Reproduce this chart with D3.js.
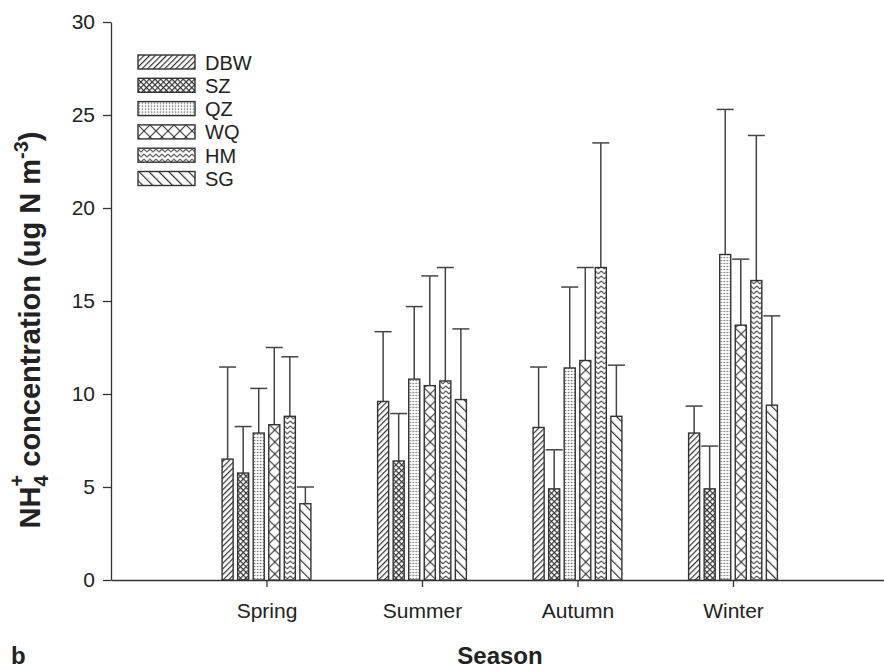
<!DOCTYPE html>
<html>
<head>
<meta charset="utf-8">
<script src="https://cdn.jsdelivr.net/npm/d3@7"></script>
<style>
  body { margin: 0; background: #fff; }
  text { font-family: "Liberation Sans", Arial, sans-serif; fill: #222; }
</style>
</head>
<body>
<svg id="chart" width="884" height="670"></svg>
<script>
// seasons and sites
var seasons = ["Spring", "Summer", "Autumn", "Winter"];
var sites = ["DBW", "SZ", "QZ", "WQ", "HM", "SG"];

// mean NH4+ per site, one value per season
var dbw = [6.5, 9.6, 8.2, 7.9];
var sz  = [5.75, 6.4, 4.9, 4.9];
var qz  = [7.9, 10.8, 11.4, 17.5];
var wq  = [8.35, 10.45, 11.8, 13.7];
var hm  = [8.8, 10.7, 16.8, 16.1];
var sg  = [4.1, 9.7, 8.8, 9.4];

// standard deviation (upper error bar)
var dbwSd = [4.95, 3.75, 3.25, 1.45];
var szSd  = [2.5, 2.55, 2.1, 2.3];
var qzSd  = [2.4, 3.9, 4.35, 7.8];
var wqSd  = [4.15, 5.9, 5.0, 3.55];
var hmSd  = [3.2, 6.1, 6.7, 7.8];
var sgSd  = [0.9, 3.8, 2.75, 4.8];

var yTicks = [0, 5, 10, 15, 20, 25, 30];

var means = [dbw, sz, qz, wq, hm, sg];
var sds = [dbwSd, szSd, qzSd, wqSd, hmSd, sgSd];

var svg = d3.select("#chart");
var defs = svg.append("defs");

var x = d3.scaleLinear().domain([0, 5]).range([111, 888.5]);
var y = d3.scaleLinear().domain([0, 30]).range([580, 22]);

var pitch = 0.1;      // bar spacing in season units
var barW = 0.071;     // bar width in season units

// pattern builders, one per site
function makePattern(id, site, ox, oy) {
  var p = defs.append("pattern").attr("id", id).attr("patternUnits", "userSpaceOnUse");
  if (site == 0) {
    p.attr("width", 4).attr("height", 4).attr("patternTransform", "translate(" + ox + "," + oy + ") rotate(45)");
    p.append("rect").attr("width", 4).attr("height", 4).attr("fill", "#fff");
    p.append("line").attr("x1", 0.6).attr("y1", 0).attr("x2", 0.6).attr("y2", 4).attr("stroke", "#333").attr("stroke-width", 1.2);
  } else if (site == 1) {
    p.attr("width", 4).attr("height", 4).attr("patternTransform", "translate(" + ox + "," + oy + ") rotate(45)");
    p.append("rect").attr("width", 4).attr("height", 4).attr("fill", "#fff");
    p.append("line").attr("x1", 0.6).attr("y1", 0).attr("x2", 0.6).attr("y2", 4).attr("stroke", "#333").attr("stroke-width", 1.2);
    p.append("line").attr("x1", 0).attr("y1", 0.6).attr("x2", 4).attr("y2", 0.6).attr("stroke", "#333").attr("stroke-width", 1.2);
  } else if (site == 2) {
    p.attr("width", 3).attr("height", 3).attr("patternTransform", "translate(" + ox + "," + oy + ")");
    p.append("rect").attr("width", 3).attr("height", 3).attr("fill", "#fff");
    p.append("circle").attr("cx", 1.5).attr("cy", 1.5).attr("r", 0.8).attr("fill", "#666");
  } else if (site == 3) {
    p.attr("width", 12).attr("height", 12).attr("patternTransform", "translate(" + ox + "," + oy + ")");
    p.append("rect").attr("width", 12).attr("height", 12).attr("fill", "#fff");
    p.append("path").attr("d", "M0,0L12,12M12,0L0,12").attr("stroke", "#333").attr("stroke-width", 1.1);
  } else if (site == 4) {
    p.attr("width", 6).attr("height", 5).attr("patternTransform", "translate(" + ox + "," + oy + ")");
    p.append("rect").attr("width", 6).attr("height", 5).attr("fill", "#fff");
    p.append("path").attr("d", "M0,1L3,3.8L6,1").attr("fill", "none").attr("stroke", "#444").attr("stroke-width", 1.1);
  } else {
    p.attr("width", 7).attr("height", 7).attr("patternTransform", "translate(" + ox + "," + oy + ") rotate(-45)");
    p.append("rect").attr("width", 7).attr("height", 7).attr("fill", "#fff");
    p.append("line").attr("x1", 0.6).attr("y1", 0).attr("x2", 0.6).attr("y2", 7).attr("stroke", "#333").attr("stroke-width", 1.2);
  }
}

// axes
var yAxis = d3.axisLeft(y).tickValues(yTicks).tickSize(8).tickSizeOuter(0).tickPadding(8);
var gy = svg.append("g").attr("transform", "translate(111,0)").call(yAxis);
gy.selectAll("text").attr("font-size", 21).style("font-family", "Liberation Sans, Arial, sans-serif").attr("fill", "#222");

var xAxis = d3.axisBottom(x).tickValues([1, 2, 3, 4]).tickFormat(function(d) { return seasons[d - 1]; })
  .tickSize(7).tickSizeOuter(0).tickPadding(16);
var gx = svg.append("g").attr("transform", "translate(0,580)").call(xAxis);
gx.selectAll("text").attr("font-size", 21).style("font-family", "Liberation Sans, Arial, sans-serif").attr("fill", "#222");
svg.selectAll(".domain, .tick line").attr("stroke", "#333").attr("stroke-width", 1.3);

// bars
var bars = [];
sites.forEach(function(s, si) {
  seasons.forEach(function(season, gi) {
    bars.push({ si: si, gi: gi, v: means[si][gi], sd: sds[si][gi] });
  });
});

var g = svg.append("g");
bars.forEach(function(b) {
  var cx = x(b.gi + 1 + (b.si - 2.5) * pitch);
  var w = x(barW) - x(0);
  var id = "pat-" + b.si + "-" + b.gi;
  makePattern(id, b.si, cx - w / 2, y(0));
  // error bar
  g.append("line").attr("x1", cx).attr("x2", cx).attr("y1", y(b.v)).attr("y2", y(b.v + b.sd))
    .attr("stroke", "#444").attr("stroke-width", 1.5);
  g.append("line").attr("x1", cx - 8.5).attr("x2", cx + 8.5).attr("y1", y(b.v + b.sd)).attr("y2", y(b.v + b.sd))
    .attr("stroke", "#444").attr("stroke-width", 1.5);
  g.append("rect").attr("x", cx - w / 2).attr("y", y(b.v)).attr("width", w).attr("height", y(0) - y(b.v))
    .attr("fill", "url(#" + id + ")").attr("stroke", "#333").attr("stroke-width", 1.4);
});

// legend
var leg = svg.append("g");
sites.forEach(function(s, i) {
  var cy = 62 + i * 23.3;
  makePattern("leg-" + i, i, 138, cy - 7);
  leg.append("rect").attr("x", 138).attr("y", cy - 7).attr("width", 57).attr("height", 14)
    .attr("fill", "url(#leg-" + i + ")").attr("stroke", "#333").attr("stroke-width", 1.4);
  leg.append("text").attr("x", 205).attr("y", cy + 7.5).attr("font-size", 20).text(s);
});

// axis titles
var yl = svg.append("text").attr("transform", "translate(40,330) rotate(-90)")
  .attr("text-anchor", "middle").attr("font-size", 29).attr("font-weight", "bold");
yl.append("tspan").text("NH");
yl.append("tspan").attr("font-size", 20).attr("dy", 8).text("4");
yl.append("tspan").attr("font-size", 20).attr("dx", -11).attr("dy", -24).text("+");
yl.append("tspan").attr("dy", 16).text(" concentration (ug N m");
yl.append("tspan").attr("font-size", 20).attr("dy", -12).text("-3");
yl.append("tspan").attr("dy", 12).text(")");

svg.append("text").attr("x", 500).attr("y", 664).attr("text-anchor", "middle")
  .attr("font-size", 24).attr("font-weight", "bold").text("Season");
svg.append("text").attr("x", 11).attr("y", 664).attr("font-size", 24).attr("font-weight", "bold").text("b");
</script>
</body>
</html>
